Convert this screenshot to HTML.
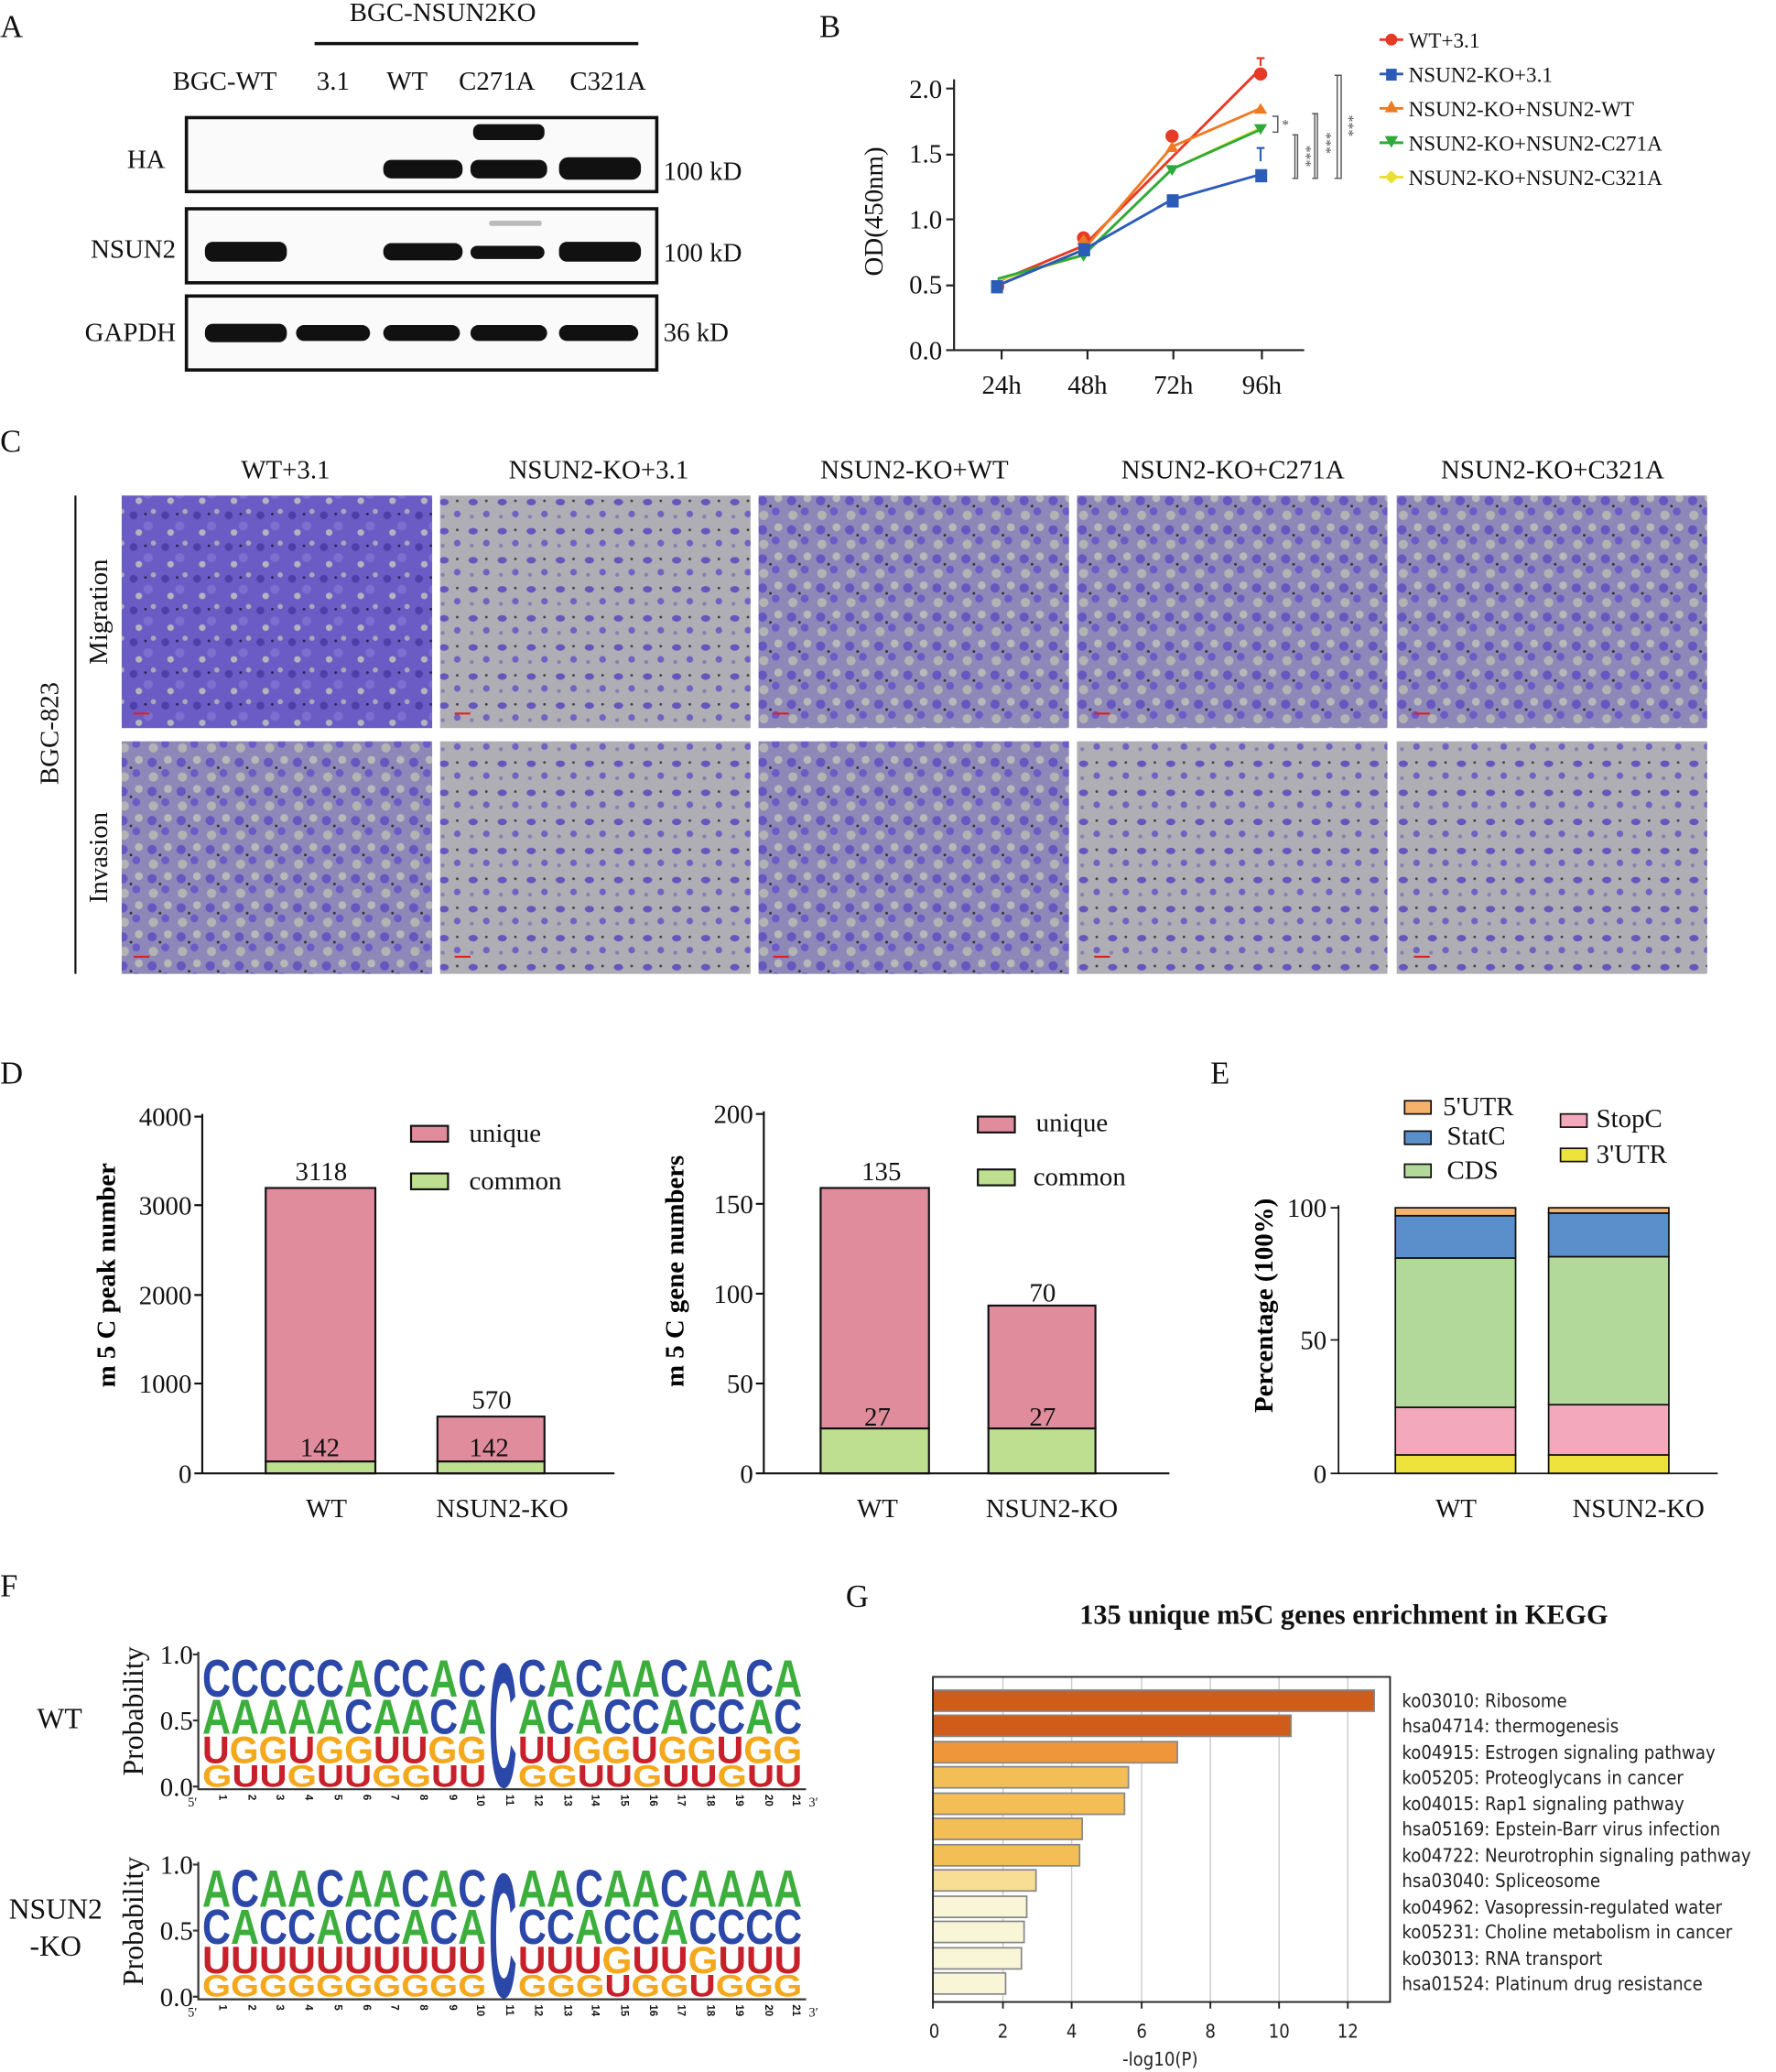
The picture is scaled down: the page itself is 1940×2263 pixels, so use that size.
<!DOCTYPE html>
<html><head><meta charset="utf-8"><style>
html,body{margin:0;padding:0;background:#fff;}
svg{display:block;}
.s{font-family:"Liberation Serif",serif;}
.b{font-family:"Liberation Sans",sans-serif;font-weight:bold;}
.c{font-family:"DejaVu Sans Condensed","Liberation Sans Narrow","Liberation Sans",sans-serif;}
</style></head><body>
<svg width="1940" height="2263" viewBox="0 0 1344 1568" xmlns="http://www.w3.org/2000/svg">
<defs>
<pattern id="dense" width="24" height="24" patternUnits="userSpaceOnUse">
<rect width="24" height="24" fill="#6a5cc4"/>
<circle cx="5" cy="6" r="3" fill="#4e3fa8"/><circle cx="16" cy="14" r="3.5" fill="#7b6fd0"/>
<circle cx="20" cy="3" r="2" fill="#a9a7b8"/><circle cx="9" cy="19" r="2.5" fill="#b5b3bd"/>
<circle cx="14" cy="5" r="1" fill="#2a2250"/>
</pattern>
<pattern id="mid" width="22" height="22" patternUnits="userSpaceOnUse">
<rect width="22" height="22" fill="#8e88b8"/>
<circle cx="5" cy="5" r="3.5" fill="#6656c0"/><circle cx="15" cy="13" r="3" fill="#6a5bc6"/>
<circle cx="17" cy="3" r="3" fill="#b8b8b8"/><circle cx="6" cy="16" r="3.5" fill="#b3b3b3"/>
<circle cx="11" cy="9" r="1" fill="#303030"/>
</pattern>
<pattern id="sparse" width="22" height="22" patternUnits="userSpaceOnUse">
<rect width="22" height="22" fill="#afaeb4"/>
<ellipse cx="6" cy="6" rx="3.5" ry="2.5" fill="#6456bc"/><circle cx="16" cy="15" r="2.5" fill="#6e62c2"/>
<circle cx="16" cy="5" r="1" fill="#404040"/><circle cx="5" cy="17" r="1.5" fill="#8680b0"/>
</pattern>
</defs>
<rect width="1344" height="1568" fill="#fff"/>

<!-- Panel A -->
<g class="s" font-size="20" fill="#111">
<text x="0" y="28" font-size="24">A</text>
<text x="335" y="16" text-anchor="middle">BGC-NSUN2KO</text>
<line x1="238" y1="33" x2="483" y2="33" stroke="#111" stroke-width="2.5"/>
<text x="170" y="68" text-anchor="middle">BGC-WT</text>
<text x="252" y="68" text-anchor="middle">3.1</text>
<text x="308" y="68" text-anchor="middle">WT</text>
<text x="376" y="68" text-anchor="middle">C271A</text>
<text x="460" y="68" text-anchor="middle">C321A</text>
<text x="125" y="127" text-anchor="end">HA</text>
<text x="133" y="195" text-anchor="end">NSUN2</text>
<text x="133" y="258" text-anchor="end">GAPDH</text>
<text x="502" y="136">100 kD</text>
<text x="502" y="198">100 kD</text>
<text x="502" y="258">36 kD</text>
</g>
<g stroke="#111" stroke-width="2.5" fill="#fafafa">
<rect x="141" y="89" width="356" height="56"/>
<rect x="141" y="158" width="356" height="56"/>
<rect x="141" y="224" width="356" height="56"/>
</g>
<g fill="#111">
<rect x="290" y="121" width="60" height="14" rx="6"/>
<rect x="356" y="121" width="58" height="14" rx="6"/>
<rect x="423" y="119" width="62" height="17" rx="7"/>
<rect x="358" y="94" width="54" height="12" rx="5"/>
<rect x="155" y="183" width="62" height="15" rx="6"/>
<rect x="290" y="184" width="60" height="13" rx="6"/>
<rect x="356" y="186" width="56" height="10" rx="5"/>
<rect x="423" y="183" width="62" height="15" rx="6"/>
<rect x="370" y="167" width="40" height="4" rx="2" fill="#bbb"/>
<rect x="155" y="245" width="62" height="14" rx="6"/>
<rect x="224" y="246" width="56" height="12" rx="6"/>
<rect x="290" y="246" width="58" height="12" rx="6"/>
<rect x="356" y="246" width="58" height="12" rx="6"/>
<rect x="423" y="246" width="60" height="12" rx="6"/>
</g>

<!-- Panel B -->
<g class="s" fill="#111">
<text x="620" y="28" font-size="24">B</text>
<text transform="translate(668,160) rotate(-90)" font-size="20" text-anchor="middle">OD(450nm)</text>
<g font-size="20" text-anchor="end">
<text x="713" y="272">0.0</text><text x="713" y="222">0.5</text><text x="713" y="173">1.0</text><text x="713" y="123">1.5</text><text x="713" y="74">2.0</text>
</g>
<g font-size="20" text-anchor="middle">
<text x="758" y="298">24h</text><text x="823" y="298">48h</text><text x="888" y="298">72h</text><text x="955" y="298">96h</text>
</g>
</g>
<g stroke="#222" stroke-width="1.5" fill="none">
<path d="M722 60 V265 H987"/>
<path d="M716 265H722M716 216H722M716 166H722M716 117H722M716 67H722"/>
<path d="M758 265V272M823 265V272M888 265V272M955 265V272"/>
</g>
<g stroke-width="2" fill="none">
<polyline points="755,213 820,186 887,119 954,52" stroke="#e53a25"/>
<polyline points="755,216 820,189 887,111 954,82" stroke="#f07a24"/>
<polyline points="755,212 820,193 887,128 954,97" stroke="#e8e030"/>
<polyline points="755,211 820,193 887,128 954,98" stroke="#2eaa3a"/>
<polyline points="755,216 820,189 887,151 954,132" stroke="#2b5cb8"/>
</g>
<g>
<circle cx="755" cy="217" r="5" fill="#e53a25"/>
<circle cx="820" cy="180" r="5" fill="#e53a25"/><circle cx="887" cy="103" r="5" fill="#e53a25"/><circle cx="954" cy="56" r="5" fill="#e53a25"/>
<path d="M820 177l5 8h-10zM887 107l5 8h-10zM954 78l5 8h-10z" fill="#f07a24"/>
<path d="M815 190h10l-5 8zM882 125h10l-5 8zM949 94h10l-5 8z" fill="#2eaa3a"/>
<rect x="750" y="212" width="9" height="10" fill="#2b5cb8"/>
<rect x="816" y="184" width="9" height="10" fill="#2b5cb8"/><rect x="883" y="147" width="9" height="10" fill="#2b5cb8"/><rect x="950" y="128" width="9" height="10" fill="#2b5cb8"/>
<path d="M954 50V44M951 44h6" stroke="#e53a25" stroke-width="1.5"/>
<path d="M954 122V112M951 112h6" stroke="#2b5cb8" stroke-width="1.5"/>
</g>
<g stroke="#555" stroke-width="1" fill="none">
<path d="M963 88H967V100H963M963 100"/>
<path d="M978 102H982V135H978M978 102"/>
<path d="M993 86H997V135H993"/>
<path d="M1010 57H1015V135H1010"/>
<path d="M980 102V135M995 86V135M1012 57V135"/>
</g>
<g class="s" font-size="11" fill="#555">
<text x="970" y="98">*</text>
<text transform="translate(985,110) rotate(90)">***</text>
<text transform="translate(1000,100) rotate(90)">***</text>
<text transform="translate(1017,87) rotate(90)">***</text>
</g>
<g class="s" font-size="16" fill="#111">
<line x1="1044" y1="30" x2="1062" y2="30" stroke="#e53a25" stroke-width="2"/><circle cx="1053" cy="30" r="4.5" fill="#e53a25"/><text x="1066" y="36">WT+3.1</text>
<line x1="1044" y1="56" x2="1062" y2="56" stroke="#2b5cb8" stroke-width="2"/><rect x="1049" y="52" width="8" height="9" fill="#2b5cb8"/><text x="1066" y="62">NSUN2-KO+3.1</text>
<line x1="1044" y1="82" x2="1062" y2="82" stroke="#f07a24" stroke-width="2"/><path d="M1053 76l5 9h-10z" fill="#f07a24"/><text x="1066" y="88">NSUN2-KO+NSUN2-WT</text>
<line x1="1044" y1="108" x2="1062" y2="108" stroke="#2eaa3a" stroke-width="2"/><path d="M1048 103h10l-5 9z" fill="#2eaa3a"/><text x="1066" y="114">NSUN2-KO+NSUN2-C271A</text>
<line x1="1044" y1="134" x2="1062" y2="134" stroke="#e8e030" stroke-width="2"/><path d="M1053 129l5 5-5 5-5-5z" fill="#e8e030"/><text x="1066" y="140">NSUN2-KO+NSUN2-C321A</text>
</g>

<!-- Panel C -->
<g class="s" fill="#111">
<text x="0" y="342" font-size="24">C</text>
<g font-size="20" text-anchor="middle">
<text x="216" y="362">WT+3.1</text><text x="453" y="362">NSUN2-KO+3.1</text><text x="692" y="362">NSUN2-KO+WT</text><text x="933" y="362">NSUN2-KO+C271A</text><text x="1175" y="362">NSUN2-KO+C321A</text>
</g>
<text transform="translate(44,555) rotate(-90)" font-size="20" text-anchor="middle">BGC-823</text>
<text transform="translate(81,463) rotate(-90)" font-size="20" text-anchor="middle">Migration</text>
<text transform="translate(81,649) rotate(-90)" font-size="20" text-anchor="middle">Invasion</text>
</g>
<line x1="57" y1="375" x2="57" y2="737" stroke="#111" stroke-width="1.5"/>
<rect x="92" y="375" width="235" height="176" fill="url(#dense)"/>
<rect x="333" y="375" width="235" height="176" fill="url(#sparse)"/>
<rect x="574" y="375" width="235" height="176" fill="url(#mid)"/>
<rect x="815" y="375" width="235" height="176" fill="url(#mid)"/>
<rect x="1057" y="375" width="235" height="176" fill="url(#mid)"/>
<rect x="92" y="561" width="235" height="176" fill="url(#mid)"/>
<rect x="333" y="561" width="235" height="176" fill="url(#sparse)"/>
<rect x="574" y="561" width="235" height="176" fill="url(#mid)"/>
<rect x="815" y="561" width="235" height="176" fill="url(#sparse)"/>
<rect x="1057" y="561" width="235" height="176" fill="url(#sparse)"/>
<g stroke="#e02020" stroke-width="1.5">
<path d="M101 540h12M344 540h12M585 540h12M828 540h12M1070 540h12M101 724h12M344 724h12M585 724h12M828 724h12M1070 724h12"/>
</g>

<!-- Panel D -->
<g stroke="#111" stroke-width="1.5">
<rect x="201" y="899" width="83" height="207" fill="#e08c9c"/>
<rect x="201" y="1106" width="83" height="9" fill="#bfdf90"/>
<rect x="331" y="1072" width="81" height="34" fill="#e08c9c"/>
<rect x="331" y="1106" width="81" height="9" fill="#bfdf90"/>
<rect x="621" y="899" width="82" height="182" fill="#e08c9c"/>
<rect x="621" y="1081" width="82" height="34" fill="#bfdf90"/>
<rect x="748" y="988" width="81" height="93" fill="#e08c9c"/>
<rect x="748" y="1081" width="81" height="34" fill="#bfdf90"/>
<rect x="311" y="852" width="28" height="12" fill="#e08c9c"/>
<rect x="311" y="888" width="28" height="12" fill="#bfdf90"/>
<rect x="740" y="845" width="28" height="12" fill="#e08c9c"/>
<rect x="740" y="885" width="28" height="12" fill="#bfdf90"/>
<path d="M153 843V1115H465M147 1115H153M147 1047H153M147 980H153M147 912H153M147 845H153" fill="none"/>
<path d="M578 841V1115H885M572 1115H578M572 1047H578M572 979H578M572 911H578M572 843H578" fill="none"/>
</g>
<g class="s" fill="#111">
<text x="0" y="820" font-size="24">D</text>
<g font-size="20" text-anchor="end">
<text x="145" y="1122">0</text><text x="145" y="1054">1000</text><text x="145" y="987">2000</text><text x="145" y="919">3000</text><text x="145" y="852">4000</text>
<text x="570" y="1122">0</text><text x="570" y="1054">50</text><text x="570" y="986">100</text><text x="570" y="918">150</text><text x="570" y="850">200</text>
</g>
<g font-size="20" text-anchor="middle">
<text x="247" y="1148">WT</text><text x="380" y="1148">NSUN2-KO</text>
<text x="664" y="1148">WT</text><text x="796" y="1148">NSUN2-KO</text>
<text x="243" y="893">3118</text><text x="372" y="1066">570</text>
<text x="242" y="1102">142</text><text x="370" y="1102">142</text>
<text x="664" y="1079">27</text><text x="789" y="1079">27</text>
<text x="667" y="893">135</text><text x="789" y="985">70</text>
<text x="355" y="864" text-anchor="start">unique</text><text x="355" y="900" text-anchor="start">common</text>
<text x="784" y="856" text-anchor="start">unique</text><text x="782" y="897" text-anchor="start">common</text>
</g>
</g>
<text class="s" transform="translate(87,965) rotate(-90)" font-size="20" font-weight="bold" text-anchor="middle">m 5 C peak number</text>
<text class="s" transform="translate(517,962) rotate(-90)" font-size="20" font-weight="bold" text-anchor="middle">m 5 C gene numbers</text>

<!-- Panel E -->
<g class="s" fill="#111">
<text x="916" y="820" font-size="24">E</text>
<g font-size="20" text-anchor="end">
<text x="1004" y="1122">0</text><text x="1004" y="1021">50</text><text x="1004" y="921">100</text>
</g>
<g font-size="20" text-anchor="middle"><text x="1102" y="1148">WT</text><text x="1240" y="1148">NSUN2-KO</text></g>
<g font-size="20">
<text x="1092" y="844">5'UTR</text><text x="1095" y="866">StatC</text><text x="1095" y="892">CDS</text>
<text x="1208" y="853">StopC</text><text x="1208" y="880">3'UTR</text>
</g>
</g>
<text class="s" transform="translate(963,988) rotate(-90)" font-size="20" font-weight="bold" text-anchor="middle">Percentage (100%)</text>
<g stroke="#111" stroke-width="1.2">
<rect x="1063" y="833" width="20" height="10" fill="#f5b26b"/>
<rect x="1063" y="856" width="20" height="10" fill="#5b8fcc"/>
<rect x="1063" y="881" width="20" height="10" fill="#b2d99a"/>
<rect x="1181" y="843" width="20" height="10" fill="#f3a8bc"/>
<rect x="1181" y="869" width="20" height="10" fill="#ede33c"/>
<rect x="1056" y="1101" width="91" height="14" fill="#ede33c"/>
<rect x="1056" y="1065" width="91" height="36" fill="#f3a8bc"/>
<rect x="1056" y="952" width="91" height="113" fill="#b2d99a"/>
<rect x="1056" y="920" width="91" height="32" fill="#5b8fcc"/>
<rect x="1056" y="914" width="91" height="6" fill="#f5b26b"/>
<rect x="1172" y="1101" width="91" height="14" fill="#ede33c"/>
<rect x="1172" y="1063" width="91" height="38" fill="#f3a8bc"/>
<rect x="1172" y="951" width="91" height="112" fill="#b2d99a"/>
<rect x="1172" y="918" width="91" height="33" fill="#5b8fcc"/>
<rect x="1172" y="914" width="91" height="4" fill="#f5b26b"/>
<path d="M1013 912V1115H1300M1007 1115H1013M1007 1014H1013M1007 914H1013" fill="none"/>
</g>

<!-- Panel F -->
<g class="s" fill="#111">
<text x="0" y="1208" font-size="24">F</text>
<text x="45" y="1308" font-size="22" text-anchor="middle">WT</text>
<text x="42" y="1452" font-size="22" text-anchor="middle">NSUN2</text>
<text x="42" y="1480" font-size="22" text-anchor="middle">-KO</text>
<text transform="translate(108,1295) rotate(-90)" font-size="22" text-anchor="middle">Probability</text>
<text transform="translate(108,1454) rotate(-90)" font-size="22" text-anchor="middle">Probability</text>
<g font-size="20" text-anchor="end">
<text x="146" y="1259">1.0</text><text x="146" y="1309">0.5</text><text x="146" y="1359">0.0</text>
<text x="146" y="1418">1.0</text><text x="146" y="1468">0.5</text><text x="146" y="1518">0.0</text>
</g>
<text x="142" y="1367" font-size="10">5′</text><text x="612" y="1367" font-size="10">3′</text>
<text x="142" y="1526" font-size="10">5′</text><text x="612" y="1526" font-size="10">3′</text>
</g>
<g stroke="#333" stroke-width="1.5" fill="none">
<path d="M150 1250V1354H610M146 1252H150M146 1302H150M146 1352H150"/>
<path d="M150 1409V1513H610M146 1411H150M146 1461H150M146 1511H150"/>
</g>
<g class="b" font-size="8" fill="#111">
<text transform="translate(166,1358) rotate(90)">1</text><text transform="translate(188,1358) rotate(90)">2</text><text transform="translate(209,1358) rotate(90)">3</text><text transform="translate(231,1358) rotate(90)">4</text><text transform="translate(253,1358) rotate(90)">5</text><text transform="translate(275,1358) rotate(90)">6</text><text transform="translate(296,1358) rotate(90)">7</text><text transform="translate(318,1358) rotate(90)">8</text><text transform="translate(340,1358) rotate(90)">9</text><text transform="translate(361,1358) rotate(90)">10</text><text transform="translate(383,1358) rotate(90)">11</text><text transform="translate(405,1358) rotate(90)">12</text><text transform="translate(427,1358) rotate(90)">13</text><text transform="translate(448,1358) rotate(90)">14</text><text transform="translate(470,1358) rotate(90)">15</text><text transform="translate(492,1358) rotate(90)">16</text><text transform="translate(513,1358) rotate(90)">17</text><text transform="translate(535,1358) rotate(90)">18</text><text transform="translate(557,1358) rotate(90)">19</text><text transform="translate(579,1358) rotate(90)">20</text><text transform="translate(600,1358) rotate(90)">21</text>
<g transform="translate(0,159)">
<text transform="translate(166,1358) rotate(90)">1</text><text transform="translate(188,1358) rotate(90)">2</text><text transform="translate(209,1358) rotate(90)">3</text><text transform="translate(231,1358) rotate(90)">4</text><text transform="translate(253,1358) rotate(90)">5</text><text transform="translate(275,1358) rotate(90)">6</text><text transform="translate(296,1358) rotate(90)">7</text><text transform="translate(318,1358) rotate(90)">8</text><text transform="translate(340,1358) rotate(90)">9</text><text transform="translate(361,1358) rotate(90)">10</text><text transform="translate(383,1358) rotate(90)">11</text><text transform="translate(405,1358) rotate(90)">12</text><text transform="translate(427,1358) rotate(90)">13</text><text transform="translate(448,1358) rotate(90)">14</text><text transform="translate(470,1358) rotate(90)">15</text><text transform="translate(492,1358) rotate(90)">16</text><text transform="translate(513,1358) rotate(90)">17</text><text transform="translate(535,1358) rotate(90)">18</text><text transform="translate(557,1358) rotate(90)">19</text><text transform="translate(579,1358) rotate(90)">20</text><text transform="translate(600,1358) rotate(90)">21</text>
</g>
</g>
<g class="b" font-size="20">
<g transform="translate(0,1284) scale(1,1.99)"><text x="153" y="0" textLength="215" lengthAdjust="spacingAndGlyphs"><tspan fill="#2b47a8">CCCCC</tspan><tspan fill="#3cae3c">A</tspan><tspan fill="#2b47a8">CC</tspan><tspan fill="#3cae3c">A</tspan><tspan fill="#2b47a8">C</tspan></text><text x="392" y="0" textLength="215" lengthAdjust="spacingAndGlyphs"><tspan fill="#2b47a8">C</tspan><tspan fill="#3cae3c">A</tspan><tspan fill="#2b47a8">C</tspan><tspan fill="#3cae3c">AA</tspan><tspan fill="#2b47a8">C</tspan><tspan fill="#3cae3c">AA</tspan><tspan fill="#2b47a8">C</tspan><tspan fill="#3cae3c">A</tspan></text></g>
<g transform="translate(0,1312) scale(1,1.85)"><text x="153" y="0" textLength="215" lengthAdjust="spacingAndGlyphs"><tspan fill="#3cae3c">AAAAA</tspan><tspan fill="#2b47a8">C</tspan><tspan fill="#3cae3c">AA</tspan><tspan fill="#2b47a8">C</tspan><tspan fill="#3cae3c">A</tspan></text><text x="392" y="0" textLength="215" lengthAdjust="spacingAndGlyphs"><tspan fill="#3cae3c">A</tspan><tspan fill="#2b47a8">C</tspan><tspan fill="#3cae3c">A</tspan><tspan fill="#2b47a8">CC</tspan><tspan fill="#3cae3c">A</tspan><tspan fill="#2b47a8">CC</tspan><tspan fill="#3cae3c">A</tspan><tspan fill="#2b47a8">C</tspan></text></g>
<g transform="translate(0,1334) scale(1,1.44)"><text x="153" y="0" textLength="215" lengthAdjust="spacingAndGlyphs"><tspan fill="#c8202a">U</tspan><tspan fill="#f4a81c">GG</tspan><tspan fill="#c8202a">U</tspan><tspan fill="#f4a81c">GG</tspan><tspan fill="#c8202a">UU</tspan><tspan fill="#f4a81c">GG</tspan></text><text x="392" y="0" textLength="215" lengthAdjust="spacingAndGlyphs"><tspan fill="#c8202a">UU</tspan><tspan fill="#f4a81c">GG</tspan><tspan fill="#c8202a">U</tspan><tspan fill="#f4a81c">GG</tspan><tspan fill="#c8202a">U</tspan><tspan fill="#f4a81c">GG</tspan></text></g>
<g transform="translate(0,1352) scale(1,1.2)"><text x="153" y="0" textLength="215" lengthAdjust="spacingAndGlyphs"><tspan fill="#f4a81c">G</tspan><tspan fill="#c8202a">UU</tspan><tspan fill="#f4a81c">G</tspan><tspan fill="#c8202a">UU</tspan><tspan fill="#f4a81c">GG</tspan><tspan fill="#c8202a">UU</tspan></text><text x="392" y="0" textLength="215" lengthAdjust="spacingAndGlyphs"><tspan fill="#f4a81c">GG</tspan><tspan fill="#c8202a">UU</tspan><tspan fill="#f4a81c">G</tspan><tspan fill="#c8202a">UU</tspan><tspan fill="#f4a81c">G</tspan><tspan fill="#c8202a">UU</tspan></text></g>
<g transform="translate(0,1352) scale(1,6.7)"><text x="370" y="0" textLength="21" lengthAdjust="spacingAndGlyphs" fill="#2b47a8">C</text></g>
<g transform="translate(0,1443) scale(1,1.99)"><text x="153" y="0" textLength="215" lengthAdjust="spacingAndGlyphs"><tspan fill="#3cae3c">A</tspan><tspan fill="#2b47a8">C</tspan><tspan fill="#3cae3c">AA</tspan><tspan fill="#2b47a8">C</tspan><tspan fill="#3cae3c">AA</tspan><tspan fill="#2b47a8">C</tspan><tspan fill="#3cae3c">A</tspan><tspan fill="#2b47a8">C</tspan></text><text x="392" y="0" textLength="215" lengthAdjust="spacingAndGlyphs"><tspan fill="#3cae3c">AA</tspan><tspan fill="#2b47a8">C</tspan><tspan fill="#3cae3c">AA</tspan><tspan fill="#2b47a8">C</tspan><tspan fill="#3cae3c">AAAA</tspan></text></g>
<g transform="translate(0,1471) scale(1,1.85)"><text x="153" y="0" textLength="215" lengthAdjust="spacingAndGlyphs"><tspan fill="#2b47a8">C</tspan><tspan fill="#3cae3c">A</tspan><tspan fill="#2b47a8">CC</tspan><tspan fill="#3cae3c">A</tspan><tspan fill="#2b47a8">CC</tspan><tspan fill="#3cae3c">A</tspan><tspan fill="#2b47a8">C</tspan><tspan fill="#3cae3c">A</tspan></text><text x="392" y="0" textLength="215" lengthAdjust="spacingAndGlyphs"><tspan fill="#2b47a8">CC</tspan><tspan fill="#3cae3c">A</tspan><tspan fill="#2b47a8">CC</tspan><tspan fill="#3cae3c">A</tspan><tspan fill="#2b47a8">CCCC</tspan></text></g>
<g transform="translate(0,1493) scale(1,1.44)"><text x="153" y="0" textLength="215" lengthAdjust="spacingAndGlyphs" fill="#c8202a">UUUUUUUUUU</text><text x="392" y="0" textLength="215" lengthAdjust="spacingAndGlyphs"><tspan fill="#c8202a">UUU</tspan><tspan fill="#f4a81c">G</tspan><tspan fill="#c8202a">UU</tspan><tspan fill="#f4a81c">G</tspan><tspan fill="#c8202a">UUU</tspan></text></g>
<g transform="translate(0,1511) scale(1,1.2)"><text x="153" y="0" textLength="215" lengthAdjust="spacingAndGlyphs" fill="#f4a81c">GGGGGGGGGG</text><text x="392" y="0" textLength="215" lengthAdjust="spacingAndGlyphs"><tspan fill="#f4a81c">GGG</tspan><tspan fill="#c8202a">U</tspan><tspan fill="#f4a81c">GG</tspan><tspan fill="#c8202a">U</tspan><tspan fill="#f4a81c">GGG</tspan></text></g>
<g transform="translate(0,1511) scale(1,6.7)"><text x="370" y="0" textLength="21" lengthAdjust="spacingAndGlyphs" fill="#2b47a8">C</text></g>
</g>

<!-- Panel G -->
<text class="s" x="640" y="1216" font-size="24" fill="#111">G</text>
<text class="s" x="1017" y="1229" font-size="21" font-weight="bold" text-anchor="middle" fill="#111">135 unique m5C genes enrichment in KEGG</text>
<g stroke="#ccc" stroke-width="1">
<path d="M759 1269V1515M811 1269V1515M864 1269V1515M916 1269V1515M968 1269V1515M1020 1269V1515"/>
</g>
<g stroke="#888" stroke-width="1.2">
<rect x="706" y="1279" width="334" height="16" fill="#cf5c18"/>
<rect x="706" y="1298" width="271" height="16" fill="#cf5c18"/>
<rect x="706" y="1318" width="185" height="16" fill="#f0963a"/>
<rect x="706" y="1337" width="148" height="16" fill="#f2be55"/>
<rect x="706" y="1357" width="145" height="16" fill="#f2be55"/>
<rect x="706" y="1376" width="113" height="16" fill="#f2be55"/>
<rect x="706" y="1396" width="111" height="16" fill="#f2be55"/>
<rect x="706" y="1415" width="78" height="16" fill="#f7de94"/>
<rect x="706" y="1435" width="71" height="16" fill="#f8f6d6"/>
<rect x="706" y="1454" width="69" height="16" fill="#f8f6d6"/>
<rect x="706" y="1474" width="67" height="16" fill="#f8f6d6"/>
<rect x="706" y="1493" width="55" height="16" fill="#f8f6d6"/>
</g>
<g stroke="#222" stroke-width="1.3" fill="none">
<rect x="706" y="1269" width="346" height="246"/>
<path d="M706 1515v5M759 1515v5M811 1515v5M864 1515v5M916 1515v5M968 1515v5M1020 1515v5"/>
</g>
<g class="c" font-size="14" fill="#222">
<g text-anchor="middle">
<text x="707" y="1542">0</text><text x="759" y="1542">2</text><text x="811" y="1542">4</text><text x="864" y="1542">6</text><text x="916" y="1542">8</text><text x="968" y="1542">10</text><text x="1020" y="1542">12</text>
<text x="878" y="1563">-log10(P)</text>
</g>
<text x="1061" y="1292">ko03010: Ribosome</text>
<text x="1061" y="1311">hsa04714: thermogenesis</text>
<text x="1061" y="1331">ko04915: Estrogen signaling pathway</text>
<text x="1061" y="1350">ko05205: Proteoglycans in cancer</text>
<text x="1061" y="1370">ko04015: Rap1 signaling pathway</text>
<text x="1061" y="1389">hsa05169: Epstein-Barr virus infection</text>
<text x="1061" y="1409">ko04722: Neurotrophin signaling pathway</text>
<text x="1061" y="1428">hsa03040: Spliceosome</text>
<text x="1061" y="1448">ko04962: Vasopressin-regulated water</text>
<text x="1061" y="1467">ko05231: Choline metabolism in cancer</text>
<text x="1061" y="1487">ko03013: RNA transport</text>
<text x="1061" y="1506">hsa01524: Platinum drug resistance</text>
</g>
</svg>
</body></html>
